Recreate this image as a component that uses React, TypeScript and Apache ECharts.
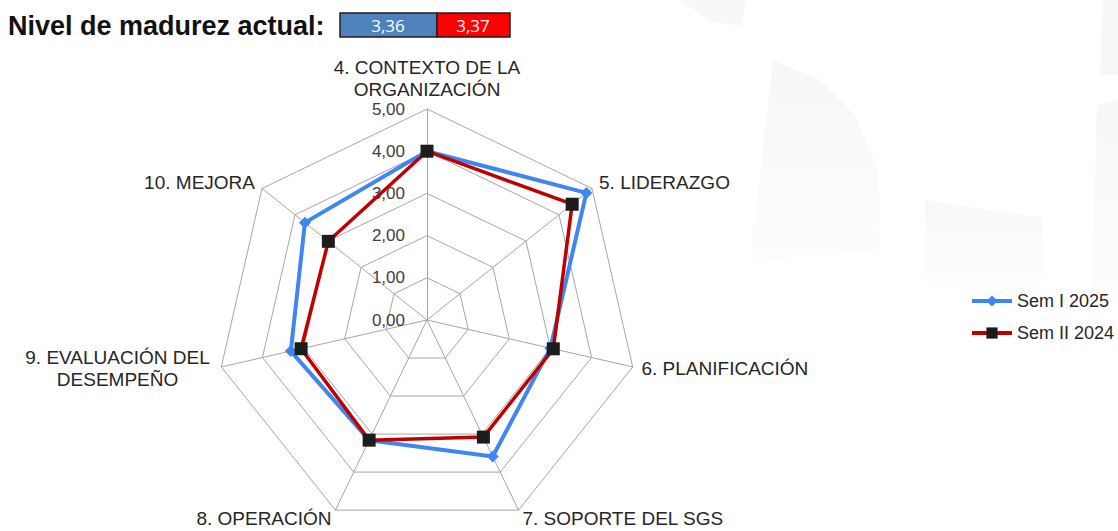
import React, { useEffect, useRef } from "react";
import * as echarts from "echarts";

// ---- data ----
const categories = [
  "4. CONTEXTO DE LA\nORGANIZACIÓN",
  "5. LIDERAZGO",
  "6. PLANIFICACIÓN",
  "7. SOPORTE DEL SGS",
  "8. OPERACIÓN",
  "9. EVALUACIÓN DEL\nDESEMPEÑO",
  "10. MEJORA",
];
const seriesNames = ["Sem I 2025", "Sem II 2024"];
const sem1_2025 = [4.0, 4.83, 3.0, 3.59, 3.16, 3.31, 3.7];
const sem2_2024 = [4.0, 4.4, 3.07, 3.08, 3.16, 3.06, 2.99];
const axisTicks = [0, 1, 2, 3, 4, 5];
const axisMax = 5;
const titleText = "Nivel de madurez actual:";
const maturityValues = ["3,36", "3,37"];

const FONT = "'Liberation Sans', Arial, sans-serif";
const BLUE = "#3f86f0";
const RED = "#c00000";
const MARK = "#1c1c1c";

// ECharts lays radar indicators counter-clockwise; reorder to go clockwise
const cw = <T,>(arr: T[]): T[] => [arr[0], ...arr.slice(1).reverse()];

export default function App() {
  const ref = useRef<HTMLDivElement>(null);
  useEffect(() => {
    if (!ref.current) return;
    const chart = echarts.init(ref.current, null, { renderer: "svg" });
    const fmt = (v: number) => v.toFixed(2).replace(".", ",");
    const fade = (a: string, b: string) => ({
      type: "linear", x: 0, y: 0, x2: 0, y2: 1,
      colorStops: [{ offset: 0, color: a }, { offset: 1, color: b }],
    });
    const option: any = {
      animation: false,
      backgroundColor: "#ffffff",
      textStyle: { fontFamily: FONT },
      graphic: [
        // faint watermark shapes
        { type: "polygon", z: -10, silent: true, shape: { points: [[680, 0], [746, 0], [741, 26], [712, 22]] }, style: { fill: "#f8f8fa" } },
        { type: "polygon", z: -10, silent: true, shape: { points: [[773, 60], [820, 80], [855, 115], [878, 170], [880, 250], [750, 262]] }, style: { fill: fade("#f7f7f9", "#fdfdfe") } },
        { type: "polygon", z: -10, silent: true, shape: { points: [[925, 200], [1043, 218], [1043, 290], [925, 290]] }, style: { fill: fade("#f8f8fa", "#fefefe") } },
        { type: "polygon", z: -10, silent: true, shape: { points: [[1103, 0], [1118, 0], [1118, 75], [1100, 75]] }, style: { fill: "#f7f7f9" } },
        { type: "polygon", z: -10, silent: true, shape: { points: [[1097, 105], [1118, 100], [1118, 290], [1092, 290]] }, style: { fill: fade("#f7f7f9", "#fdfdfe") } },
        // title
        {
          type: "text",
          left: 8,
          top: 12,
          style: { text: titleText, font: `bold 27px ${FONT}`, fill: "#111111" },
        },
        {
          type: "rect",
          shape: { x: 340, y: 13, width: 97, height: 24 },
          style: { fill: "#4f81bd", stroke: "#1f1f1f", lineWidth: 1.5 },
        },
        {
          type: "rect",
          shape: { x: 437, y: 13, width: 73, height: 24 },
          style: { fill: "#ff0000", stroke: "#1f1f1f", lineWidth: 1.5 },
        },
        {
          type: "text",
          x: 388,
          y: 25,
          style: { text: maturityValues[0], font: `17px 'Open Sans', ${FONT}`, fill: "#ffffff", align: "center", verticalAlign: "middle" },
        },
        {
          type: "text",
          x: 473,
          y: 25,
          style: { text: maturityValues[1], font: `17px 'Open Sans', ${FONT}`, fill: "#ffffff", align: "center", verticalAlign: "middle" },
        },
      ],
      legend: {
        orient: "vertical",
        left: 970,
        top: 292,
        padding: 0,
        itemWidth: 40,
        itemHeight: 14,
        itemGap: 14,
        lineStyle: { width: 4 },
        textStyle: { fontSize: 18, color: "#262626", fontFamily: FONT },
        data: seriesNames,
      },
      grid: { show: false, left: 0, top: 0, width: 1, height: 1 },
      xAxis: { show: false, type: "value" },
      yAxis: { show: false, type: "value" },
      radar: {
        center: [427, 320],
        radius: 211,
        startAngle: 90,
        shape: "polygon",
        splitNumber: 5,
        axisName: {
          color: "#262626",
          fontSize: 19,
          fontFamily: FONT,
          lineHeight: 22,
          formatter: (name: string) =>
            name.startsWith("9.")
              ? name.split("\n").map((l) => `{c|${l}}`).join("\n")
              : name,
          rich: { c: { width: 190, align: "center", fontSize: 19, lineHeight: 22, color: "#262626", fontFamily: FONT } },
        },
        nameGap: 9,
        axisLine: { lineStyle: { color: "#a6a6a6", width: 1 } },
        splitLine: { lineStyle: { color: "#a6a6a6", width: 1 } },
        splitArea: { show: false },
        axisLabel: { show: false },
        indicator: cw(categories).map((name) => ({ name, min: 0, max: axisMax })),
      },
      polar: { center: [427, 320], radius: 211 },
      angleAxis: { show: false, startAngle: 90, min: 0, max: 360 },
      radiusAxis: {
        min: axisTicks[0],
        max: axisTicks[axisTicks.length - 1],
        interval: axisTicks[1] - axisTicks[0],
        axisLine: { show: false },
        axisTick: { show: false },
        splitLine: { show: false },
        axisLabel: { formatter: (v: number) => fmt(v), fontSize: 17, color: "#404040", margin: 22, fontFamily: FONT },
        z: 1,
      },
      series: [
        // legend proxies (line icon with marker), no data
        {
          type: "line",
          name: seriesNames[0],
          data: [],
          symbol: "diamond",
          symbolSize: 11,
          lineStyle: { color: BLUE, width: 4 },
          itemStyle: { color: BLUE },
        },
        {
          type: "line",
          name: seriesNames[1],
          data: [],
          symbol: "rect",
          symbolSize: 11,
          lineStyle: { color: RED, width: 4 },
          itemStyle: { color: MARK },
        },
        {
          type: "radar",
          name: seriesNames[0],
          z: 3,
          symbol: "diamond",
          symbolSize: 12,
          lineStyle: { color: BLUE, width: 4 },
          itemStyle: { color: BLUE },
          data: [{ name: seriesNames[0], value: cw(sem1_2025) }],
        },
        {
          type: "radar",
          name: seriesNames[1],
          z: 4,
          symbol: "rect",
          symbolSize: 13,
          lineStyle: { color: RED, width: 3.5 },
          itemStyle: { color: MARK },
          data: [{ name: seriesNames[1], value: cw(sem2_2024) }],
        },
      ],
    };
    chart.setOption(option);
    return () => chart.dispose();
  }, []);
  return (
    <div
      ref={ref}
      style={{ position: "absolute", left: 0, top: 0, width: 1118, height: 531 }}
    />
  );
}
